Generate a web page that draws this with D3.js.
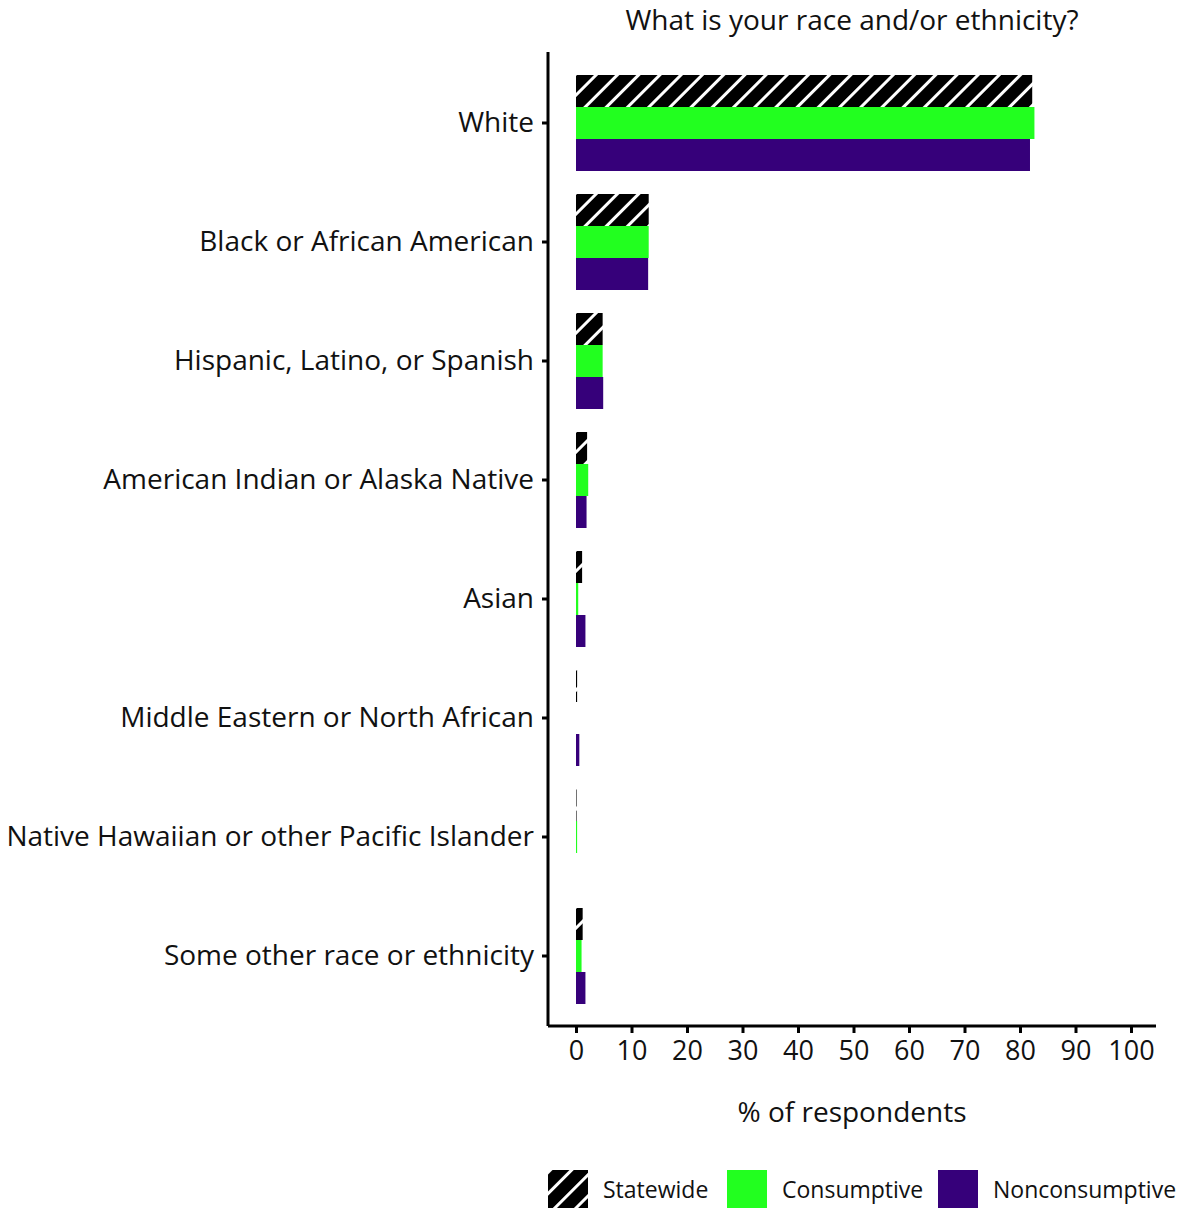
<!DOCTYPE html>
<html>
<head>
<meta charset="utf-8">
<script src="https://cdn.jsdelivr.net/npm/d3@7"></script>
<style>
  body { margin: 0; background: #fff; }
  text { font-family: "Open Sans", Lato, sans-serif; fill: #111; }
</style>
</head>
<body>
<svg id="chart" width="1184" height="1208"></svg>
<script>
// data
var categories = ["White", "Black or African American", "Hispanic, Latino, or Spanish",
    "American Indian or Alaska Native", "Asian", "Middle Eastern or North African",
    "Native Hawaiian or other Pacific Islander", "Some other race or ethnicity"];
var seriesNames = ["Statewide", "Consumptive", "Nonconsumptive"];
var statewide = [82.2, 13.1, 4.8, 2.0, 1.1, 0.2, 0.1, 1.2];
var consumptive = [82.6, 13.1, 4.8, 2.2, 0.4, 0.0, 0.2, 1.0];
var nonconsumptive = [81.8, 13.0, 4.9, 1.9, 1.7, 0.6, 0.0, 1.7];
var xTicks = [0, 10, 20, 30, 40, 50, 60, 70, 80, 90, 100];

var seriesValues = [statewide, consumptive, nonconsumptive];
var fills = ["url(#hatch)", "#22ff1f", "#36007a"];

var svg = d3.select("#chart");

var margin = {left: 548, right: 28, top: 52, bottom: 182};
var width = 1184, height = 1208;

var defs = svg.append("defs");
var pat = defs.append("pattern")
    .attr("id", "hatch")
    .attr("patternUnits", "userSpaceOnUse")
    .attr("width", 15).attr("height", 15)
    .attr("patternTransform", "rotate(45)");
pat.append("rect").attr("width", 15).attr("height", 15).attr("fill", "#000");
pat.append("rect").attr("x", 0).attr("width", 3).attr("height", 15).attr("fill", "#fff");

var x = d3.scaleLinear()
    .domain([0, 100])
    .range([576, 1131]);

// groups 96px tall, 119px apart
var y = d3.scaleBand()
    .domain(categories)
    .range([75, 1004])
    .paddingInner(23 / 119)
    .paddingOuter(0);

var ySub = d3.scaleBand()
    .domain(seriesNames)
    .range([0, y.bandwidth()]);

var rows = svg.append("g");
categories.forEach(function (cat, ci) {
    var g = rows.append("g").attr("transform", "translate(0," + y(cat) + ")");
    g.selectAll("rect")
        .data(seriesNames.map(function (s, si) { return {s: s, v: seriesValues[si][ci], f: fills[si]}; }))
        .enter()
        .append("rect")
        .attr("x", x(0))
        .attr("y", function (d) { return ySub(d.s); })
        .attr("height", ySub.bandwidth())
        .attr("width", function (d) { return x(d.v) - x(0); })
        .attr("fill", function (d) { return d.f; });
});

// y axis
var yAxis = svg.append("g")
    .attr("transform", "translate(" + margin.left + ",0)")
    .call(d3.axisLeft(y).tickSize(6).tickPadding(8));
yAxis.select(".domain").attr("d", "M0," + margin.top + "V" + (height - margin.bottom)).attr("stroke-width", 3);
yAxis.selectAll(".tick line").attr("stroke-width", 3);
yAxis.selectAll(".tick text").style("font-size", "28px").attr("fill", "#111");

// x axis
var xAxis = svg.append("g")
    .attr("transform", "translate(0," + (height - margin.bottom) + ")")
    .call(d3.axisBottom(x).tickValues(xTicks).tickSize(7).tickPadding(8));
xAxis.select(".domain").attr("d", "M" + margin.left + ",0H" + (width - margin.right)).attr("stroke-width", 3);
xAxis.selectAll(".tick line").attr("stroke-width", 3);
xAxis.selectAll(".tick text").style("font-size", "27px").attr("fill", "#111");

// titles
svg.append("text")
    .attr("x", 852).attr("y", 30)
    .attr("text-anchor", "middle")
    .style("font-size", "28px")
    .text("What is your race and/or ethnicity?");

svg.append("text")
    .attr("x", 852).attr("y", 1122)
    .attr("text-anchor", "middle")
    .style("font-size", "28px")
    .text("% of respondents");

// legend
var legendX = [548, 727, 938];
var legend = svg.append("g");
seriesNames.forEach(function (s, i) {
    legend.append("rect")
        .attr("x", legendX[i]).attr("y", 1170)
        .attr("width", 40).attr("height", 40)
        .attr("fill", fills[i]);
    legend.append("text")
        .attr("x", legendX[i] + 55).attr("y", 1198)
        .style("font-size", "23px")
        .text(s);
});
</script>
</body>
</html>
